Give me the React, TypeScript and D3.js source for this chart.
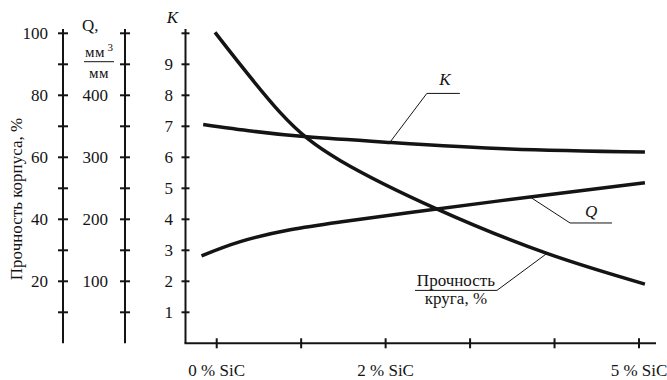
import React from "react";
import * as d3 from "d3";

// ---- data ----
const xTickValues = [0, 1, 2, 3, 4, 5];
const xLabelValues = [0, 2, 5];
const xLabels = ["0 % SiC", "2 % SiC", "5 % SiC"];

const strengthAxisTicks = [10, 20, 30, 40, 50, 60, 70, 80, 90, 100];
const strengthAxisLabels = [20, 40, 60, 80, 100];
const qAxisTicks = [50, 100, 150, 200, 250, 300, 350, 400, 450, 500];
const qAxisLabels = [100, 200, 300, 400];
const kAxisTicks = [1, 2, 3, 4, 5, 6, 7, 8, 9, 10];
const kAxisLabels = [1, 2, 3, 4, 5, 6, 7, 8, 9];

// curves, x in % SiC, y in K-axis units
const strengthX = [-0.02, 0.75, 1.46, 2.61, 3.91, 5.07];
const strengthY = [10.03, 7.45, 5.9, 4.33, 2.9, 1.91];
const kX = [-0.16, 0.43, 1.07, 2.05, 3.47, 5.07];
const kY = [7.06, 6.84, 6.66, 6.48, 6.27, 6.17];
const qX = [-0.18, 0.28, 0.87, 1.46, 2.29, 3.71, 5.07];
const qY = [2.82, 3.28, 3.66, 3.91, 4.22, 4.72, 5.18];

const W = 667;
const H = 380;
const FONT = "'Liberation Serif', 'Times New Roman', serif";

export default function App() {
  const x = d3.scaleLinear().domain([0, 5]).range([216.7, 639]);
  const yK = d3.scaleLinear().domain([0, 10]).range([343.3, 33.3]);
  const yP = d3.scaleLinear().domain([0, 100]).range([343.3, 33.3]);
  const yQ = d3.scaleLinear().domain([0, 500]).range([343.3, 33.3]);

  const line = d3
    .line<[number, number]>()
    .x((d) => x(d[0]))
    .y((d) => yK(d[1]))
    .curve(d3.curveNatural);

  const strengthPts = strengthX.map((v, i) => [v, strengthY[i]] as [number, number]);
  const kPts = kX.map((v, i) => [v, kY[i]] as [number, number]);
  const qPts = qX.map((v, i) => [v, qY[i]] as [number, number]);

  const axisTop = 29;
  const axisBottom = yK(0);
  const pAxisX = 63;
  const qAxisX = 125;
  const kAxisX = 185.5;
  const xAxisEnd = 656;
  const tickHalf = 5;

  const stroke = "#141414";

  // annotation anchors (on curves)
  const kAnchor = [x(2.05), yK(6.48)];
  const qAnchor = [x(3.71), yK(4.72)];
  const sAnchor = [x(3.91), yK(2.9)];

  return (
    <svg
      width={W}
      height={H}
      style={{ position: "absolute", left: 0, top: 0, background: "#fff" }}
      fontFamily={FONT}
      fontSize={17}
    >
      {/* left axis: Прочность корпуса */}
      <line x1={pAxisX} x2={pAxisX} y1={axisTop} y2={axisBottom} stroke={stroke} strokeWidth={2} />
      {strengthAxisTicks.map((t) => (
        <line key={"pt" + t} x1={pAxisX - tickHalf} x2={pAxisX + tickHalf} y1={yP(t)} y2={yP(t)} stroke={stroke} strokeWidth={2} />
      ))}
      {strengthAxisLabels.map((t) => (
        <text key={"pl" + t} x={48} y={yP(t)} dy="0.35em" textAnchor="end" fill={stroke}>
          {t}
        </text>
      ))}
      <text transform={`translate(21.5,199) rotate(-90)`} textAnchor="middle" fill={stroke}>
        Прочность корпуса, %
      </text>

      {/* Q axis */}
      <line x1={qAxisX} x2={qAxisX} y1={axisTop} y2={axisBottom} stroke={stroke} strokeWidth={2} />
      {qAxisTicks.map((t) => (
        <line key={"qt" + t} x1={qAxisX - tickHalf} x2={qAxisX + tickHalf} y1={yQ(t)} y2={yQ(t)} stroke={stroke} strokeWidth={2} />
      ))}
      {qAxisLabels.map((t) => (
        <text key={"ql" + t} x={108} y={yQ(t)} dy="0.35em" textAnchor="end" fill={stroke}>
          {t}
        </text>
      ))}
      <text x={82} y={31} fill={stroke}>Q,</text>
      <text x={85} y={57} fontSize={15} letterSpacing={0.5} fill={stroke}>
        мм
      </text>
      <text x={107.5} y={51} fontSize={11} fill={stroke}>3</text>
      <line x1={84} x2={114} y1={61.7} y2={61.7} stroke={stroke} strokeWidth={1} />
      <text x={99} y={78} fontSize={15} letterSpacing={0.5} textAnchor="middle" fill={stroke}>
        мм
      </text>

      {/* K axis */}
      <line x1={kAxisX} x2={kAxisX} y1={axisTop} y2={axisBottom} stroke={stroke} strokeWidth={2} />
      {kAxisTicks.map((t) => (
        <line key={"kt" + t} x1={kAxisX - 4} x2={kAxisX + 4} y1={yK(t)} y2={yK(t)} stroke={stroke} strokeWidth={2} />
      ))}
      {kAxisLabels.map((t) => (
        <text key={"kl" + t} x={173} y={yK(t)} dy="0.35em" textAnchor="end" fill={stroke}>
          {t}
        </text>
      ))}
      <text x={172.5} y={23} textAnchor="middle" fontStyle="italic" fill={stroke}>K</text>

      {/* x axis */}
      <line x1={kAxisX - 1} x2={xAxisEnd} y1={axisBottom} y2={axisBottom} stroke={stroke} strokeWidth={2} />
      {xTickValues.map((t) => (
        <line key={"xt" + t} x1={x(t)} x2={x(t)} y1={axisBottom - tickHalf} y2={axisBottom + tickHalf} stroke={stroke} strokeWidth={2} />
      ))}
      {xLabelValues.map((t, i) => (
        <text key={"xl" + t} x={x(t)} y={376} textAnchor="middle" fill={stroke}>
          {xLabels[i]}
        </text>
      ))}

      {/* curves */}
      <path d={line(strengthPts) || ""} fill="none" stroke={stroke} strokeWidth={3.5} />
      <path d={line(kPts) || ""} fill="none" stroke={stroke} strokeWidth={3.5} />
      <path d={line(qPts) || ""} fill="none" stroke={stroke} strokeWidth={3.5} />

      {/* K annotation */}
      <polyline
        points={`${kAnchor[0]},${kAnchor[1]} ${kAnchor[0] + 37},${kAnchor[1] - 49} ${kAnchor[0] + 70},${kAnchor[1] - 49}`}
        fill="none"
        stroke={stroke}
        strokeWidth={1}
      />
      <text x={kAnchor[0] + 55} y={kAnchor[1] - 57} textAnchor="middle" fontStyle="italic" fill={stroke}>K</text>

      {/* Q annotation */}
      <polyline
        points={`${qAnchor[0]},${qAnchor[1]} ${qAnchor[0] + 40},${qAnchor[1] + 26} ${qAnchor[0] + 82},${qAnchor[1] + 26}`}
        fill="none"
        stroke={stroke}
        strokeWidth={1}
      />
      <text x={qAnchor[0] + 61} y={qAnchor[1] + 20} textAnchor="middle" fontStyle="italic" fill={stroke}>Q</text>

      {/* Strength annotation */}
      <polyline
        points={`${sAnchor[0]},${sAnchor[1]} ${sAnchor[0] - 50},${sAnchor[1] + 37} ${sAnchor[0] - 132},${sAnchor[1] + 37}`}
        fill="none"
        stroke={stroke}
        strokeWidth={1}
      />
      <text x={sAnchor[0] - 91} y={sAnchor[1] + 33} textAnchor="middle" fill={stroke}>Прочность</text>
      <text x={sAnchor[0] - 91} y={sAnchor[1] + 51} textAnchor="middle" fill={stroke}>круга, %</text>
    </svg>
  );
}
